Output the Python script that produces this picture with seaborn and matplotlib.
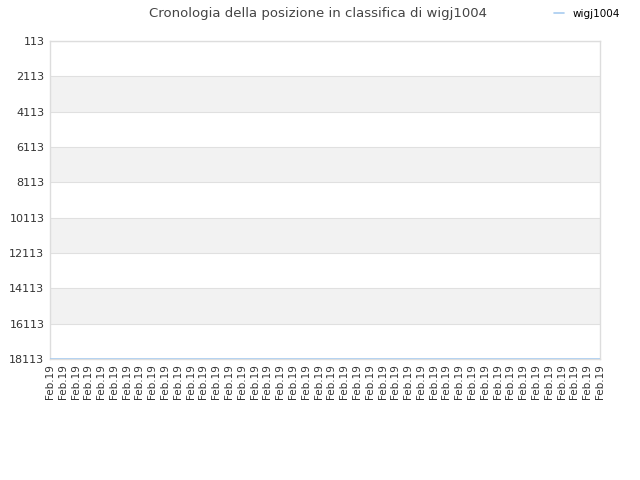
import pandas as pd
import matplotlib
matplotlib.use("Agg")
import matplotlib.pyplot as plt
import seaborn as sns

# dati
player = "wigj1004"
dates = ["Feb.19"] * 44
positions = [18113] * 44
y_ticks = [113, 2113, 4113, 6113, 8113, 10113, 12113, 14113, 16113, 18113]

df = pd.DataFrame({"idx": range(len(dates)), "Posizione": positions, "Giocatore": player})

sns.set_style("white")
plt.rcParams["font.family"] = ["DejaVu Sans"]

fig = plt.figure(figsize=(6.4, 4.8), dpi=100)
ax = fig.add_axes([0.078, 0.252, 0.8595, 0.6625])

# bande alternate
for i in range(len(y_ticks) - 1):
    if i % 2 == 1:
        ax.axhspan(y_ticks[i], y_ticks[i + 1], color="#f2f2f2", zorder=0, lw=0)
for t in y_ticks:
    ax.axhline(t, color="#e0e0e0", lw=0.8, zorder=1)

sns.lineplot(data=df, x="idx", y="Posizione", hue="Giocatore",
             palette=["#a8ccf0"], lw=1.2, ax=ax, zorder=3)

ax.set_ylim(18113, 113)
ax.set_xlim(0, len(dates) - 1)
ax.set_yticks(y_ticks)
ax.set_yticklabels([str(t) for t in y_ticks], fontsize=8, color="#333333")
ax.set_xticks(range(len(dates)))
ax.set_xticklabels(dates, rotation=90, fontsize=7.5, color="#333333")
ax.tick_params(axis="both", length=0, pad=4)
ax.set_xlabel("")
ax.set_ylabel("")
for s in ax.spines.values():
    s.set_color("#dddddd")
    s.set_linewidth(1)

fig.suptitle("Cronologia della posizione in classifica di wigj1004",
             x=0.497, y=0.985, fontsize=9.5, color="#444444")
leg = ax.legend(loc="upper right", bbox_to_anchor=(0.975, 0.99), bbox_transform=fig.transFigure,
                frameon=False, fontsize=7.5, handlelength=1.0, borderaxespad=0)
for t in leg.get_texts():
    t.set_color("black")

fig.savefig("out.png", dpi=100)
